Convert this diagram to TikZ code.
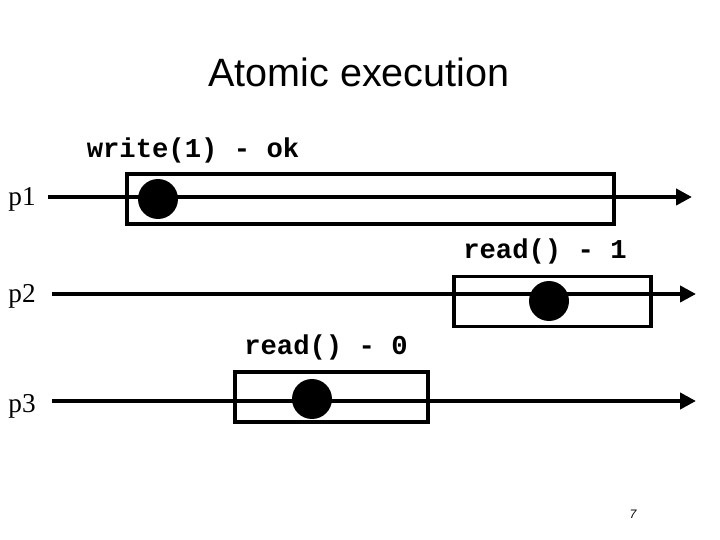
\documentclass[tikz,border=0pt]{standalone}
\usepackage{fontspec}
\setmainfont{Liberation Serif}
\newfontfamily\titlefont{Liberation Sans}
\newfontfamily\codefont{Liberation Mono}
\usetikzlibrary{arrows.meta}
\tikzset{
  procline/.style={line width=2.8pt,-{Triangle[length=9pt,width=9pt]}},
  opbox/.style={draw,line width=2.2pt,minimum height=1.0cm},
  event/.style={circle,fill=black,minimum size=0.8cm,inner sep=0pt},
  oplabel/.style={font=\codefont\bfseries\fontsize{15.5}{18}\selectfont,inner sep=0pt},
  proclabel/.style={font=\fontsize{15.5}{18}\selectfont,inner sep=0pt}
}
\begin{document}
\begin{tikzpicture}[x=0.02cm,y=-0.02cm]
  \useasboundingbox (0,0) rectangle (720,540);
  % Titel
  \node[font=\titlefont\fontsize{22.5}{26}\selectfont] (title) at (359,72) {Atomic execution};

  % Prozess p1
  \node[proclabel] (p1) at (22,199) {p1};
  \coordinate (p1s) at (48,197);
  \coordinate (p1e) at (692,197);
  \draw[procline] (p1s) -- (p1e);
  \node[opbox,minimum width=9.74cm] (w1) at (370.5,199) {};
  \node[event] (e1) at (158,199) {};
  \node[oplabel] (l1) at (193,150) {write(1) - ok};

  % Prozess p2
  \node[proclabel] (p2) at (22,296) {p2};
  \coordinate (p2s) at (52,294);
  \coordinate (p2e) at (696,294);
  \draw[procline] (p2s) -- (p2e);
  \node[opbox,minimum width=3.94cm] (r1) at (552.5,301.5) {};
  \node[event] (e2) at (549,301) {};
  \node[oplabel] (l2) at (545,251) {read() - 1};

  % Prozess p3
  \node[proclabel] (p3) at (22,406) {p3};
  \coordinate (p3s) at (52,401);
  \coordinate (p3e) at (696,401);
  \draw[procline] (p3s) -- (p3e);
  \node[opbox,minimum width=3.86cm] (r0) at (331.5,397) {};
  \node[event] (e3) at (312,399) {};
  \node[oplabel] (l3) at (326,347) {read() - 0};

  % Seitenzahl
  \node[font=\titlefont\itshape\fontsize{7}{8}\selectfont] (page) at (633,514) {7};
\end{tikzpicture}
\end{document}
